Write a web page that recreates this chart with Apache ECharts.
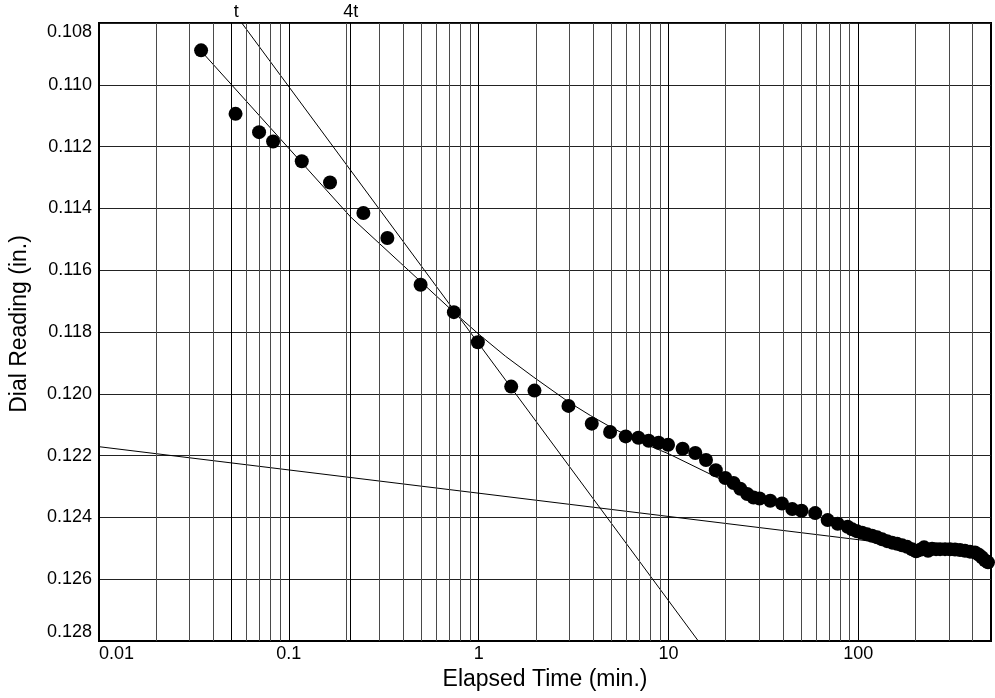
<!DOCTYPE html>
<html>
<head>
<meta charset="utf-8">
<script src="https://cdn.jsdelivr.net/npm/echarts@6/dist/echarts.min.js"></script>
<style>html,body{margin:0;padding:0;background:#fff;}#c{width:995px;height:698px;}</style>
</head>
<body>
<div id="c"></div>
<script>
// ---- data ----
const timeMin = [0.0345, 0.0524, 0.0697, 0.0826, 0.117, 0.1648, 0.247, 0.3304, 0.4945, 0.7404, 0.9903,
  1.484, 1.968, 2.972, 3.942, 4.925, 5.953, 6.94, 7.864, 8.876, 9.947, 11.87, 13.85, 15.76, 17.75, 19.92,
  22.02, 23.88, 26.0, 28.06, 30.18, 34.36, 39.59, 44.86, 50.21, 59.27, 68.96, 77.85, 87.87,
  92.8, 98.58, 104.7, 111.3, 118.2, 125.6, 133.5, 141.8, 150.7, 160.1, 170.1, 180.7, 192.0, 201.6, 211.5,
  222.0, 233.0, 244.6, 256.7, 269.6, 286.3, 304.2, 323.2, 343.4, 364.8, 387.6, 411.9, 432.3, 448.3, 464.9, 482.1];
const dialReading = [0.108885, 0.11094, 0.111533, 0.111835, 0.112473, 0.113164, 0.114149, 0.114959, 0.11647, 0.117358, 0.11833,
  0.119767, 0.119896, 0.120392, 0.120966, 0.121235, 0.121378, 0.12142, 0.121517, 0.121582, 0.121647, 0.121776, 0.121916, 0.122142, 0.122473, 0.122726,
  0.122888, 0.123073, 0.123245, 0.123355, 0.123387, 0.123462, 0.123549, 0.123731, 0.123786, 0.123861, 0.124087, 0.124207, 0.124305,
  0.124386, 0.124451, 0.124499, 0.124548, 0.124596, 0.124645, 0.12471, 0.124768, 0.124817, 0.124856, 0.124904, 0.124953, 0.125034, 0.125099, 0.12505,
  0.124969, 0.125083, 0.125018, 0.125027, 0.125027, 0.125027, 0.125034, 0.12504, 0.125057, 0.125083, 0.125109, 0.125138, 0.125212, 0.125293, 0.125391, 0.125455];

// fitted curve through early readings
const curveX = [0.03453, 0.06305, 0.1156, 0.2118, 0.3882, 0.7404, 0.9952, 1.385, 1.952, 2.997, 3.880, 4.985, 7.110, 10.07, 18.75];
const curveY = [0.108908, 0.11069, 0.112486, 0.114279, 0.11577, 0.117358, 0.118058, 0.118785, 0.119465, 0.120276, 0.120703, 0.121086, 0.121562, 0.121948, 0.122759];
// steep tangent line
const tangentX = [0.05653, 14.36];
const tangentY = [0.108, 0.128];
// shallow secondary line
const secondaryX = [0.01, 500];
const secondaryY = [0.121712, 0.125248];
// t and 4t markers
const markerNames = ['t', '4t'];
const markerX = [0.0528, 0.2118];

// axis
const xTickLabels = ['0.01', '0.1', '1', '10', '100'];
const xMin = 0.01, xMax = 500;
const yMin = 0.108, yMax = 0.128, yStep = 0.002;
const minorGridX = [0.02, 0.03, 0.04, 0.05, 0.06, 0.07, 0.08, 0.09,
  0.2, 0.3, 0.4, 0.5, 0.6, 0.7, 0.8, 0.9,
  2, 3, 4, 5, 6, 7, 8, 9,
  20, 30, 40, 50, 60, 70, 80, 90,
  200, 300, 400];

const FONT = 'Liberation Sans';
const pairs = (xs, ys) => xs.map((x, i) => [x, ys[i]]);

const chart = echarts.init(document.getElementById('c'), null, {renderer: 'canvas'});
chart.setOption({
  backgroundColor: '#fff',
  animation: false,
  grid: {left: 98, right: 4, top: 23, bottom: 57, show: true, borderColor: '#000', borderWidth: 2, backgroundColor: 'transparent'},
  xAxis: {
    type: 'log', logBase: 10, min: xMin, max: xMax,
    name: 'Elapsed Time (min.)', nameLocation: 'middle', nameGap: 27,
    nameTextStyle: {fontFamily: FONT, fontSize: 23, color: '#000'},
    axisLine: {show: true, onZero: false, lineStyle: {color: '#000', width: 2}},
    axisTick: {show: false},
    axisLabel: {
      fontFamily: FONT, fontSize: 18, color: '#000', margin: 4, alignMinLabel: 'left',
      formatter: v => { const k = Math.round(Math.log10(v)) + 2; return xTickLabels[k] !== undefined ? xTickLabels[k] : ''; }
    },
    splitLine: {show: true, lineStyle: {color: '#000', width: 1}}
  },
  yAxis: {
    type: 'value', inverse: true, min: yMin, max: yMax, interval: yStep,
    name: 'Dial Reading (in.)', nameLocation: 'middle', nameGap: 68, nameRotate: 90,
    nameTextStyle: {fontFamily: FONT, fontSize: 23, color: '#000', padding: [0, 0, 0, 16]},
    axisLine: {show: true, lineStyle: {color: '#000', width: 2}},
    axisTick: {show: false},
    axisLabel: {fontFamily: FONT, fontSize: 18, color: '#000', margin: 7,
      verticalAlignMinLabel: 'top', verticalAlignMaxLabel: 'bottom',
      formatter: v => v.toFixed(3)},
    splitLine: {show: true, lineStyle: {color: '#222', width: 1}}
  },
  series: [
    {
      type: 'line', data: [], silent: true, z: 1,
      markLine: {
        silent: true, symbol: 'none', animation: false,
        label: {show: false},
        lineStyle: {color: '#4a4a4a', width: 1, type: 'solid'},
        emphasis: {disabled: true},
        data: minorGridX.map(v => ({xAxis: v}))
      }
    },
    {
      type: 'line', data: [], silent: true, z: 2,
      markLine: {
        silent: true, symbol: 'none', animation: false,
        label: {show: false},
        lineStyle: {color: '#000', width: 1, type: 'solid'},
        emphasis: {disabled: true},
        data: markerX.map(v => ({xAxis: v}))
      }
    },
    {
      type: 'scatter', silent: true, clip: false, symbolSize: 0, z: 3,
      itemStyle: {opacity: 1, color: '#000'},
      data: markerX.map((x, i) => ({value: [x, yMin], name: markerNames[i]})),
      label: {show: true, position: 'top', distance: 2, formatter: p => p.name,
        fontFamily: FONT, fontSize: 18, color: '#000'}
    },
    {type: 'line', data: pairs(curveX, curveY), showSymbol: false, smooth: false, silent: true, z: 4,
      lineStyle: {color: '#000', width: 1}},
    {type: 'line', data: pairs(tangentX, tangentY), showSymbol: false, silent: true, z: 4,
      lineStyle: {color: '#000', width: 1}},
    {type: 'line', data: pairs(secondaryX, secondaryY), showSymbol: false, silent: true, z: 4,
      lineStyle: {color: '#000', width: 1}},
    {type: 'scatter', data: pairs(timeMin, dialReading), symbol: 'circle', symbolSize: 14, z: 5, clip: false,
      itemStyle: {color: '#000', opacity: 1}, silent: true}
  ]
});
</script>
</body>
</html>
